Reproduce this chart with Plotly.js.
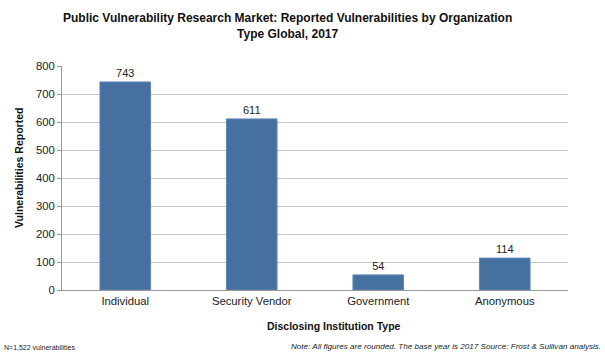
<!DOCTYPE html>
<html>
<head>
<meta charset="utf-8">
<script src="https://cdn.plot.ly/plotly-3.0.1.min.js"></script>
<style>html,body{margin:0;padding:0;background:#fff;}#chart{width:605px;height:359px;}</style>
</head>
<body>
<div id="chart"></div>
<script>
var categories = ["Individual", "Security Vendor", "Government", "Anonymous"];
var values = [743, 611, 54, 114];
var yTicks = [0, 100, 200, 300, 400, 500, 600, 700, 800];

var trace = {
  type: "bar",
  x: categories,
  y: values,
  text: values.map(String),
  textposition: "outside",
  cliponaxis: false,
  textfont: {family: "Liberation Sans, Arial, sans-serif", size: 11, color: "#222"},
  width: 0.4,
  marker: {color: "#46709f", line: {color: "#5f88b8", width: 1}},
  hoverinfo: "none"
};

var layout = {
  width: 605, height: 359,
  margin: {l: 62, r: 37, t: 66, b: 69},
  paper_bgcolor: "#fff", plot_bgcolor: "#fff",
  showlegend: false,
  font: {family: "Liberation Sans, Arial, sans-serif", size: 11, color: "#222"},
  xaxis: {
    type: "category",
    showline: true, linecolor: "#999", linewidth: 1,
    ticks: "", tickfont: {size: 11.3, color: "#222"},
    showgrid: false, fixedrange: true
  },
  yaxis: {
    range: [0, 800],
    tickvals: yTicks,
    showline: true, linecolor: "#999", linewidth: 1,
    ticks: "outside", ticklen: 4, tickcolor: "#999",
    gridcolor: "#c8c8c8", gridwidth: 1,
    zeroline: false,
    tickfont: {size: 11.3, color: "#222"},
    fixedrange: true
  },
  annotations: [
    {text: "<b>Public Vulnerability Research Market: Reported Vulnerabilities by Organization<br>Type Global, 2017</b>",
     xref: "paper", yref: "paper",
     x: (287 - 62) / 506, y: (290 - 26) / 224, xanchor: "center", yanchor: "middle",
     showarrow: false, font: {size: 12, color: "#111"}},
    {text: "<b>Disclosing Institution Type</b>", xref: "paper", yref: "paper",
     x: (334 - 62) / 506, y: (290 - 326) / 224, xanchor: "center", yanchor: "middle",
     showarrow: false, font: {size: 10.5, color: "#111"}},
    {text: "<b>Vulnerabilities Reported</b>", xref: "paper", yref: "paper",
     x: (19 - 62) / 506, y: (290 - 168) / 224, xanchor: "center", yanchor: "middle",
     textangle: -90, showarrow: false, font: {size: 10.5, color: "#111"}},
    {text: "N=1,522 vulnerabilities", xref: "paper", yref: "paper",
     x: -60 / 506, y: (290 - 347) / 224, xanchor: "left", yanchor: "middle",
     showarrow: false, font: {size: 7, color: "#222"}},
    {text: "<i>Note: All figures are rounded. The base year is 2017 Source: Frost &amp; Sullivan analysis.</i>", xref: "paper", yref: "paper",
     x: (603 - 62) / 506, y: (290 - 346) / 224, xanchor: "right", yanchor: "middle",
     showarrow: false, font: {size: 8.1, color: "#222"}}
  ]
};

Plotly.newPlot("chart", [trace], layout, {displayModeBar: false, staticPlot: true});
</script>
</body>
</html>
